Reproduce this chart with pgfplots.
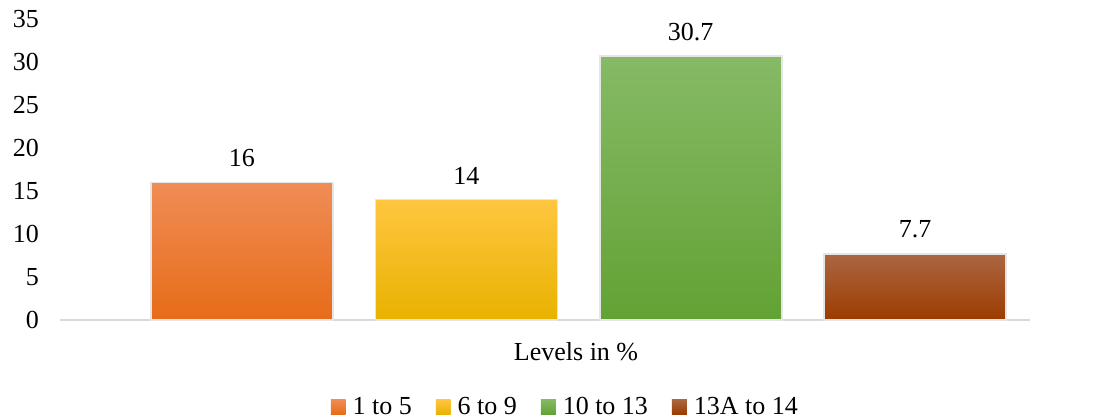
\documentclass[border=0pt]{standalone}
\usepackage{pgfplots}
\pgfplotsset{compat=1.18}
\usepackage{fontspec}
\setmainfont{Liberation Serif}

\definecolor{orTop}{RGB}{240,140,86}
\definecolor{orMid}{RGB}{244,124,40}
\definecolor{orBot}{RGB}{230,108,24}
\definecolor{yeTop}{RGB}{255,198,64}
\definecolor{yeMid}{RGB}{255,192,0}
\definecolor{yeBot}{RGB}{232,178,0}
\definecolor{grTop}{RGB}{134,186,102}
\definecolor{grMid}{RGB}{112,173,71}
\definecolor{grBot}{RGB}{98,162,52}
\definecolor{brTop}{RGB}{172,102,66}
\definecolor{brMid}{RGB}{165,70,10}
\definecolor{brBot}{RGB}{155,60,0}

\begin{document}
\begin{tikzpicture}
\useasboundingbox (-30pt,-49.5pt) rectangle (517pt,160pt);
\begin{axis}[
  scale only axis,
  width=485pt, height=150.5pt,
  font=\fontsize{13}{15}\selectfont,
  /pgf/number format/assume math mode=true,
  xmin=-0.811, xmax=3.512,
  ymin=0, ymax=35,
  ytick={0,5,...,35},
  xtick=\empty,
  major tick length=0pt,
  axis lines*=left,
  y axis line style={draw=none},
  x axis line style={draw=black!15, line width=0.9pt, -},
  yticklabel style={xshift=-7pt},
  clip=false,
  ybar, bar width=91pt, bar shift=0pt,
  nodes near coords,
  every node near coord/.append style={font=\fontsize{13}{15}\selectfont, yshift=4pt},
  xlabel={Levels in \%},
  every axis x label/.style={at={(axis description cs:0.532,0)}, anchor=center, yshift=-16pt},
  legend columns=4,
  legend style={at={(axis description cs:0.522,0)}, anchor=center, yshift=-43.5pt,
    draw=none, fill=none, font=\fontsize{13}{15}\selectfont,
    /tikz/every odd column/.append style={column sep=1.5pt},
    /tikz/every even column/.append style={column sep=10pt},
    inner sep=0pt},
  legend cell align=left,
  legend image code/.code={\path[#1, draw=none] (0pt,-3.6pt) rectangle (7.4pt,3.8pt);},
]
\addplot[draw=black!10, line width=0.8pt, top color=orTop, middle color=orMid, bottom color=orBot]
  coordinates {(0,16)};
\addplot[draw=black!10, line width=0.8pt, top color=yeTop, middle color=yeMid, bottom color=yeBot]
  coordinates {(1,14)};
\addplot[draw=black!10, line width=0.8pt, top color=grTop, middle color=grMid, bottom color=grBot]
  coordinates {(2,30.7)};
\addplot[draw=black!10, line width=0.8pt, top color=brTop, middle color=brMid, bottom color=brBot]
  coordinates {(3,7.7)};
\legend{1 to 5, 6 to 9, 10 to 13, 13A to 14}
\end{axis}
\end{tikzpicture}
\end{document}
